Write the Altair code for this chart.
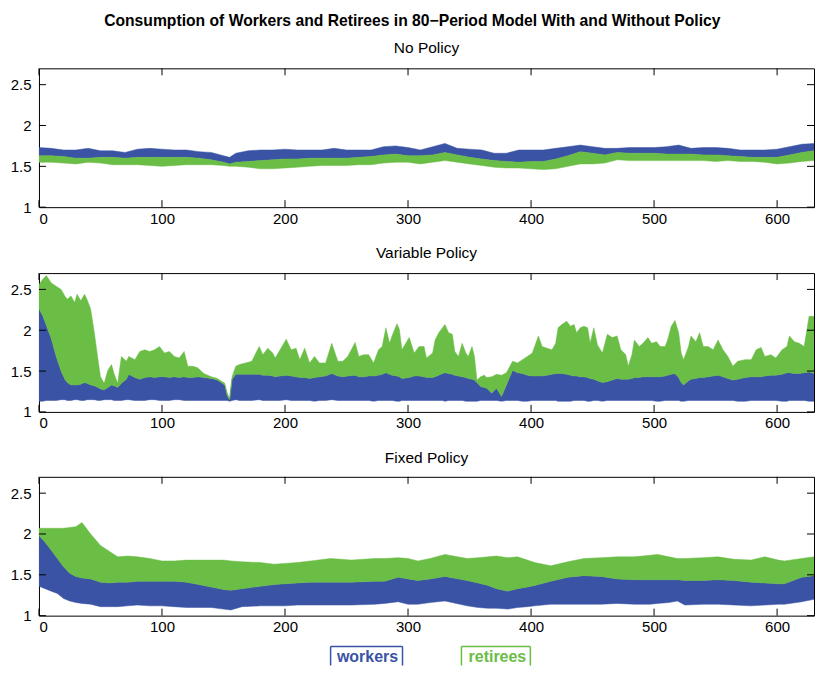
import altair as alt
import pandas as pd

BLUE = "#3A53A4"
GREEN = "#6ABD45"
FONT = "Liberation Sans"

main_title = "Consumption of Workers and Retirees in 80\u2212Period Model With and Without Policy"
panel_titles = ["No Policy", "Variable Policy", "Fixed Policy"]
x_ticks = [0, 100, 200, 300, 400, 500, 600]
y_ticks = [1, 1.5, 2, 2.5]

# ---------------- Panel 1: No Policy ----------------
p1_t = [0, 10, 20, 30, 40, 50, 60, 70, 80, 90, 100, 110, 120, 130, 140, 150, 155,
        160, 170, 180, 190, 200, 210, 220, 230, 240, 250, 260, 270, 280, 290, 300,
        310, 320, 330, 340, 350, 360, 370, 380, 390, 400, 410, 420, 430, 440, 450,
        460, 470, 480, 490, 500, 510, 520, 530, 540, 550, 560, 570, 580, 590, 600,
        610, 620, 630, 640]
p1_wrk_hi = [1.73, 1.72, 1.70, 1.70, 1.72, 1.69, 1.69, 1.67, 1.71, 1.72, 1.71, 1.70, 1.70, 1.68, 1.67, 1.63, 1.61,
             1.66, 1.69, 1.70, 1.70, 1.71, 1.70, 1.70, 1.70, 1.72, 1.70, 1.70, 1.70, 1.74, 1.75, 1.73,
             1.70, 1.74, 1.78, 1.72, 1.71, 1.70, 1.66, 1.66, 1.70, 1.70, 1.70, 1.72, 1.74, 1.76, 1.74,
             1.72, 1.72, 1.73, 1.73, 1.73, 1.74, 1.76, 1.72, 1.73, 1.73, 1.72, 1.70, 1.70, 1.70, 1.71,
             1.74, 1.77, 1.78, 1.78]
p1_split = [1.63, 1.63, 1.62, 1.60, 1.60, 1.61, 1.61, 1.60, 1.61, 1.61, 1.61, 1.61, 1.61, 1.60, 1.58, 1.55, 1.53,
            1.55, 1.56, 1.57, 1.58, 1.59, 1.59, 1.60, 1.60, 1.60, 1.60, 1.61, 1.62, 1.64, 1.65, 1.63,
            1.63, 1.64, 1.67, 1.64, 1.61, 1.59, 1.57, 1.56, 1.55, 1.56, 1.56, 1.59, 1.63, 1.68, 1.66,
            1.64, 1.67, 1.66, 1.66, 1.66, 1.65, 1.65, 1.65, 1.64, 1.64, 1.63, 1.62, 1.61, 1.61, 1.61,
            1.64, 1.67, 1.69, 1.70]
p1_ret_lo = [1.55, 1.55, 1.54, 1.53, 1.55, 1.54, 1.52, 1.52, 1.52, 1.51, 1.50, 1.51, 1.52, 1.52, 1.52, 1.51, 1.50,
             1.50, 1.49, 1.47, 1.47, 1.48, 1.49, 1.50, 1.51, 1.51, 1.51, 1.52, 1.52, 1.54, 1.55, 1.55,
             1.53, 1.55, 1.57, 1.55, 1.53, 1.51, 1.49, 1.48, 1.48, 1.47, 1.46, 1.47, 1.50, 1.53, 1.53,
             1.54, 1.58, 1.57, 1.57, 1.57, 1.57, 1.57, 1.57, 1.57, 1.56, 1.57, 1.56, 1.56, 1.55, 1.53,
             1.54, 1.56, 1.57, 1.57]

# ---------------- Panel 2: Variable Policy ----------------
p2_t = [0, 3, 6, 10, 14, 18, 21, 23, 26, 29,
        31, 34, 37, 39, 42, 45, 48, 50, 53, 56,
        59, 61, 64, 67, 71, 73, 78, 82, 86, 90,
        94, 98, 102, 106, 110, 114, 118, 121, 125, 129,
        134, 140, 145, 151, 153, 155, 157, 160, 163, 168,
        173, 179, 182, 186, 190, 192, 196, 201, 205, 209,
        212, 216, 220, 224, 228, 233, 238, 243, 247, 251,
        257, 260, 264, 268, 272, 276, 279, 282, 285, 287,
        291, 293, 295, 301, 305, 309, 313, 315, 320, 322,
        325, 328, 330, 333, 336, 338, 341, 344, 347, 349,
        352, 354, 356, 359, 362, 364, 368, 372, 376, 380,
        385, 389, 393, 397, 401, 406, 409, 413, 417, 420,
        422, 425, 429, 432, 435, 437, 440, 443, 446, 448,
        451, 454, 458, 462, 466, 470, 473, 477, 479, 482,
        484, 488, 491, 495, 498, 502, 505, 509, 511, 514,
        517, 520, 522, 524, 528, 530, 534, 537, 540, 544,
        548, 552, 556, 560, 564, 568, 574, 579, 583, 587,
        590, 595, 599, 604, 608, 610, 614, 618, 622, 626,
        630, 635, 640]
p2_ret_hi = [2.56, 2.62, 2.67, 2.58, 2.54, 2.50, 2.42, 2.38, 2.42, 2.34,
             2.44, 2.36, 2.44, 2.38, 2.26, 1.97, 1.64, 1.43, 1.35, 1.51,
             1.58, 1.47, 1.35, 1.68, 1.62, 1.68, 1.64, 1.74, 1.76, 1.74,
             1.76, 1.80, 1.72, 1.74, 1.68, 1.66, 1.74, 1.56, 1.56, 1.54,
             1.47, 1.43, 1.41, 1.35, 1.23, 1.16, 1.43, 1.56, 1.58, 1.60,
             1.62, 1.80, 1.70, 1.78, 1.72, 1.66, 1.76, 1.89, 1.76, 1.78,
             1.64, 1.78, 1.60, 1.68, 1.60, 1.60, 1.84, 1.62, 1.62, 1.68,
             1.85, 1.68, 1.70, 1.70, 1.60, 1.76, 1.80, 2.03, 1.84, 1.93,
             2.08, 2.01, 1.76, 1.91, 1.72, 1.80, 1.80, 1.66, 1.72, 1.88,
             1.97, 2.03, 2.07, 1.97, 1.95, 1.74, 1.68, 1.84, 1.72, 1.68,
             1.80, 1.68, 1.39, 1.43, 1.45, 1.42, 1.43, 1.46, 1.45, 1.48,
             1.62, 1.60, 1.64, 1.68, 1.72, 1.93, 1.80, 1.78, 1.76, 1.84,
             2.03, 2.07, 2.11, 2.05, 2.07, 1.97, 2.03, 2.05, 2.03, 1.84,
             2.03, 1.82, 1.72, 1.95, 1.91, 1.93, 1.76, 1.70, 1.56, 1.70,
             1.88, 1.80, 1.84, 1.91, 1.84, 1.86, 1.80, 1.80, 1.88, 2.05,
             2.12, 1.97, 1.72, 1.64, 1.80, 1.93, 1.86, 1.97, 1.80, 1.80,
             1.76, 1.88, 1.76, 1.68, 1.56, 1.62, 1.64, 1.64, 1.76, 1.79,
             1.68, 1.70, 1.66, 1.76, 1.80, 1.93, 1.86, 1.84, 1.80, 2.17,
             2.17, 2.15, 2.13]
p2_split = [2.26, 2.18, 2.06, 1.90, 1.68, 1.50, 1.40, 1.36, 1.33, 1.33,
            1.33, 1.34, 1.36, 1.35, 1.33, 1.32, 1.30, 1.28, 1.27, 1.30,
            1.33, 1.32, 1.30, 1.35, 1.40, 1.46, 1.42, 1.40, 1.42, 1.43,
            1.42, 1.43, 1.43, 1.42, 1.43, 1.42, 1.43, 1.42, 1.42, 1.43,
            1.42, 1.41, 1.39, 1.33, 1.20, 1.15, 1.40, 1.46, 1.46, 1.46,
            1.46, 1.46, 1.45, 1.45, 1.44, 1.43, 1.44, 1.45, 1.44, 1.43,
            1.42, 1.42, 1.41, 1.42, 1.43, 1.44, 1.47, 1.44, 1.43, 1.44,
            1.45, 1.43, 1.43, 1.44, 1.44, 1.45, 1.46, 1.48, 1.46, 1.45,
            1.44, 1.43, 1.41, 1.42, 1.44, 1.44, 1.43, 1.42, 1.42, 1.43,
            1.45, 1.47, 1.48, 1.47, 1.46, 1.45, 1.44, 1.43, 1.42, 1.41,
            1.40, 1.39, 1.36, 1.31, 1.30, 1.29, 1.23, 1.29, 1.19, 1.33,
            1.51, 1.48, 1.47, 1.45, 1.44, 1.44, 1.44, 1.45, 1.46, 1.47,
            1.47, 1.47, 1.46, 1.45, 1.44, 1.44, 1.43, 1.43, 1.42, 1.41,
            1.40, 1.38, 1.36, 1.37, 1.39, 1.41, 1.40, 1.40, 1.40, 1.41,
            1.42, 1.42, 1.43, 1.43, 1.43, 1.43, 1.43, 1.44, 1.45, 1.46,
            1.47, 1.42, 1.36, 1.33, 1.38, 1.40, 1.41, 1.42, 1.42, 1.43,
            1.44, 1.45, 1.43, 1.41, 1.39, 1.40, 1.42, 1.43, 1.43, 1.43,
            1.44, 1.45, 1.45, 1.46, 1.48, 1.48, 1.47, 1.47, 1.48, 1.49,
            1.47, 1.45, 1.43]
p2_wrk_lo = [1.13, 1.13, 1.14, 1.14, 1.14, 1.15, 1.15, 1.14, 1.14, 1.15,
             1.15, 1.14, 1.14, 1.15, 1.15, 1.15, 1.14, 1.14, 1.15, 1.15,
             1.15, 1.14, 1.14, 1.14, 1.15, 1.15, 1.14, 1.14, 1.14, 1.15,
             1.15, 1.14, 1.14, 1.14, 1.15, 1.15, 1.14, 1.14, 1.14, 1.14,
             1.14, 1.14, 1.14, 1.14, 1.14, 1.13, 1.14, 1.15, 1.14, 1.14,
             1.14, 1.15, 1.14, 1.14, 1.14, 1.14, 1.14, 1.15, 1.14, 1.14,
             1.14, 1.14, 1.14, 1.13, 1.14, 1.14, 1.15, 1.14, 1.14, 1.14,
             1.14, 1.14, 1.14, 1.14, 1.13, 1.14, 1.14, 1.14, 1.14, 1.14,
             1.13, 1.13, 1.14, 1.14, 1.14, 1.14, 1.14, 1.14, 1.14, 1.14,
             1.14, 1.14, 1.13, 1.14, 1.14, 1.14, 1.14, 1.14, 1.13, 1.13,
             1.13, 1.13, 1.13, 1.14, 1.14, 1.14, 1.14, 1.14, 1.13, 1.14,
             1.14, 1.14, 1.13, 1.13, 1.14, 1.14, 1.14, 1.14, 1.14, 1.14,
             1.13, 1.13, 1.13, 1.13, 1.14, 1.14, 1.14, 1.14, 1.13, 1.13,
             1.14, 1.14, 1.13, 1.14, 1.14, 1.14, 1.14, 1.14, 1.14, 1.14,
             1.14, 1.14, 1.14, 1.14, 1.14, 1.13, 1.13, 1.14, 1.14, 1.14,
             1.14, 1.14, 1.13, 1.13, 1.14, 1.14, 1.14, 1.14, 1.14, 1.14,
             1.14, 1.14, 1.14, 1.14, 1.14, 1.13, 1.13, 1.14, 1.14, 1.14,
             1.14, 1.14, 1.14, 1.13, 1.13, 1.14, 1.14, 1.14, 1.14, 1.13,
             1.13, 1.14, 1.14]

# ---------------- Panel 3: Fixed Policy ----------------
p3_t = [0, 5, 10, 15, 20, 25, 30, 35, 42, 50,
        58, 64, 72, 80, 90, 100, 110, 120, 130, 140,
        150, 156, 165, 180, 191, 200, 210, 221, 237, 254,
        273, 281, 292, 300, 308, 318, 330, 348, 357, 365,
        372, 381, 389, 397, 403, 416, 430, 443, 457, 470,
        484, 497, 503, 512, 519, 525, 540, 552, 565, 579,
        590, 601, 606, 620, 630, 640]
p3_wrk_lo = [1.36, 1.33, 1.30, 1.27, 1.21, 1.18, 1.16, 1.15, 1.14, 1.11,
             1.11, 1.11, 1.12, 1.13, 1.12, 1.12, 1.11, 1.10, 1.10, 1.10,
             1.08, 1.07, 1.11, 1.12, 1.12, 1.12, 1.13, 1.13, 1.13, 1.13,
             1.14, 1.15, 1.17, 1.14, 1.14, 1.16, 1.18, 1.12, 1.10, 1.09,
             1.09, 1.08, 1.10, 1.11, 1.12, 1.14, 1.14, 1.14, 1.14, 1.15,
             1.14, 1.14, 1.15, 1.16, 1.18, 1.13, 1.14, 1.14, 1.13, 1.12,
             1.13, 1.14, 1.14, 1.17, 1.20, 1.20]
p3_split = [1.98, 1.90, 1.80, 1.70, 1.60, 1.52, 1.48, 1.46, 1.45, 1.41,
            1.40, 1.41, 1.41, 1.42, 1.42, 1.42, 1.42, 1.41, 1.38, 1.35,
            1.32, 1.31, 1.33, 1.36, 1.38, 1.39, 1.40, 1.41, 1.41, 1.41,
            1.42, 1.42, 1.47, 1.45, 1.43, 1.45, 1.48, 1.43, 1.40, 1.37,
            1.33, 1.30, 1.33, 1.35, 1.37, 1.42, 1.47, 1.49, 1.48, 1.45,
            1.44, 1.44, 1.44, 1.44, 1.44, 1.43, 1.43, 1.44, 1.43, 1.41,
            1.40, 1.39, 1.39, 1.47, 1.49, 1.50]
p3_ret_hi = [2.07, 2.07, 2.07, 2.07, 2.07, 2.08, 2.09, 2.14, 2.00, 1.86,
             1.78, 1.72, 1.73, 1.72, 1.70, 1.67, 1.67, 1.68, 1.68, 1.68,
             1.68, 1.67, 1.66, 1.65, 1.63, 1.64, 1.65, 1.67, 1.70, 1.68,
             1.70, 1.70, 1.71, 1.70, 1.67, 1.70, 1.75, 1.70, 1.71, 1.72,
             1.73, 1.71, 1.72, 1.68, 1.65, 1.61, 1.66, 1.70, 1.71, 1.72,
             1.72, 1.74, 1.75, 1.72, 1.70, 1.70, 1.71, 1.72, 1.69, 1.68,
             1.72, 1.68, 1.67, 1.70, 1.72, 1.70]

legend_labels = ["workers", "retirees"]
legend_colors = [BLUE, GREEN]

for arrs in [(p1_t, p1_wrk_hi, p1_split, p1_ret_lo),
             (p2_t, p2_ret_hi, p2_split, p2_wrk_lo),
             (p3_t, p3_wrk_lo, p3_split, p3_ret_hi)]:
    n = len(arrs[0])
    assert all(len(a) == n for a in arrs), [len(a) for a in arrs]

df1 = pd.DataFrame({"t": p1_t, "wrk_lo": p1_split, "wrk_hi": p1_wrk_hi,
                    "ret_lo": p1_ret_lo, "ret_hi": p1_split})
df2 = pd.DataFrame({"t": p2_t, "wrk_lo": p2_wrk_lo, "wrk_hi": p2_split,
                    "ret_lo": p2_split, "ret_hi": p2_ret_hi})
df3 = pd.DataFrame({"t": p3_t, "wrk_lo": p3_wrk_lo, "wrk_hi": p3_split,
                    "ret_lo": p3_split, "ret_hi": p3_ret_hi})

W, H = 776, 139
TICK = 7
LH = 27  # height of the legend strip
xscale = alt.Scale(domain=[0, 630], nice=False, zero=False)
yscale = alt.Scale(domain=[1, 2.7], nice=False, zero=False)

xaxis = alt.Axis(values=x_ticks, format="d", title=None, grid=False, ticks=False,
                 tickSize=0, domain=False, labelPadding=4, labelFontSize=15,
                 labelFont=FONT, labelColor="#000")
yaxis = alt.Axis(values=y_ticks, format="~g", title=None, grid=False, ticks=False,
                 tickSize=0, domain=False, labelPadding=8, labelFontSize=15,
                 labelFont=FONT, labelColor="#000")

xt_df = pd.DataFrame({"v": x_ticks})
yt_df = pd.DataFrame({"v": y_ticks})


def panel(df, title, title_offset):
    base = alt.Chart(df)
    workers = base.mark_area(color=BLUE, stroke=BLUE, strokeWidth=0.5, clip=True).encode(
        x=alt.X("t:Q", scale=xscale, axis=xaxis),
        y=alt.Y("wrk_lo:Q", scale=yscale, axis=yaxis),
        y2="wrk_hi:Q",
    )
    retirees = base.mark_area(color=GREEN, stroke=GREEN, strokeWidth=0.5, clip=True).encode(
        x=alt.X("t:Q", scale=xscale, axis=xaxis),
        y=alt.Y("ret_lo:Q", scale=yscale, axis=yaxis),
        y2="ret_hi:Q",
    )
    xb = alt.Chart(xt_df).mark_rule(color="#000", strokeWidth=1).encode(
        x=alt.X("v:Q", scale=xscale, axis=xaxis), y=alt.value(H), y2=alt.value(H - TICK))
    xtp = alt.Chart(xt_df).mark_rule(color="#000", strokeWidth=1).encode(
        x=alt.X("v:Q", scale=xscale, axis=xaxis), y=alt.value(0), y2=alt.value(TICK))
    yl = alt.Chart(yt_df).mark_rule(color="#000", strokeWidth=1).encode(
        y=alt.Y("v:Q", scale=yscale, axis=yaxis), x=alt.value(0), x2=alt.value(TICK))
    yr = alt.Chart(yt_df).mark_rule(color="#000", strokeWidth=1).encode(
        y=alt.Y("v:Q", scale=yscale, axis=yaxis), x=alt.value(W), x2=alt.value(W - TICK))
    return alt.layer(workers, retirees, xb, xtp, yl, yr).properties(
        width=W, height=H,
        title=alt.TitleParams(title, font=FONT, fontSize=15.5, fontWeight="normal",
                              color="#000", anchor="middle", offset=title_offset),
    )


# legend strip: boxes open at the bottom, as cut by the page edge in the original
legend_layers = []
positions = [(292, 364, 329), (423, 492, 459)]
BOX_TOP = 8
for lab, col, (bx0, bx1, tx) in zip(legend_labels, legend_colors, positions):
    ldf = pd.DataFrame({"label": [lab]})
    legend_layers.append(alt.Chart(ldf).mark_rule(color=col, strokeWidth=1.5, clip=True).encode(
        x=alt.value(bx0), x2=alt.value(bx1), y=alt.value(BOX_TOP)))
    legend_layers.append(alt.Chart(ldf).mark_rule(color=col, strokeWidth=1.5, clip=True).encode(
        x=alt.value(bx0), y=alt.value(BOX_TOP), y2=alt.value(LH + 5)))
    legend_layers.append(alt.Chart(ldf).mark_rule(color=col, strokeWidth=1.5, clip=True).encode(
        x=alt.value(bx1), y=alt.value(BOX_TOP), y2=alt.value(LH + 5)))
    legend_layers.append(alt.Chart(ldf).mark_text(color=col, font=FONT, fontSize=16,
                                                  fontWeight="bold", baseline="alphabetic",
                                                  align="center").encode(
        text="label:N", x=alt.value(tx), y=alt.value(LH - 4)))
legend = alt.layer(*legend_layers).properties(
    width=W, height=LH, view=alt.ViewBackground(strokeOpacity=0))

panels = alt.vconcat(
    panel(df1, panel_titles[0], 11),
    panel(df2, panel_titles[1], 11),
    panel(df3, panel_titles[2], 10),
    spacing=18,
)

chart = alt.vconcat(panels, legend, spacing=3).properties(
    title=alt.TitleParams(main_title, font=FONT, fontSize=15.7, fontWeight="bold",
                          color="#000", anchor="middle", offset=11),
    padding={"left": 1, "top": 4, "right": 0, "bottom": 0},
).configure_view(stroke="#000", strokeWidth=1)

chart.save("out.html", embed_options={"renderer": "svg", "actions": False})
